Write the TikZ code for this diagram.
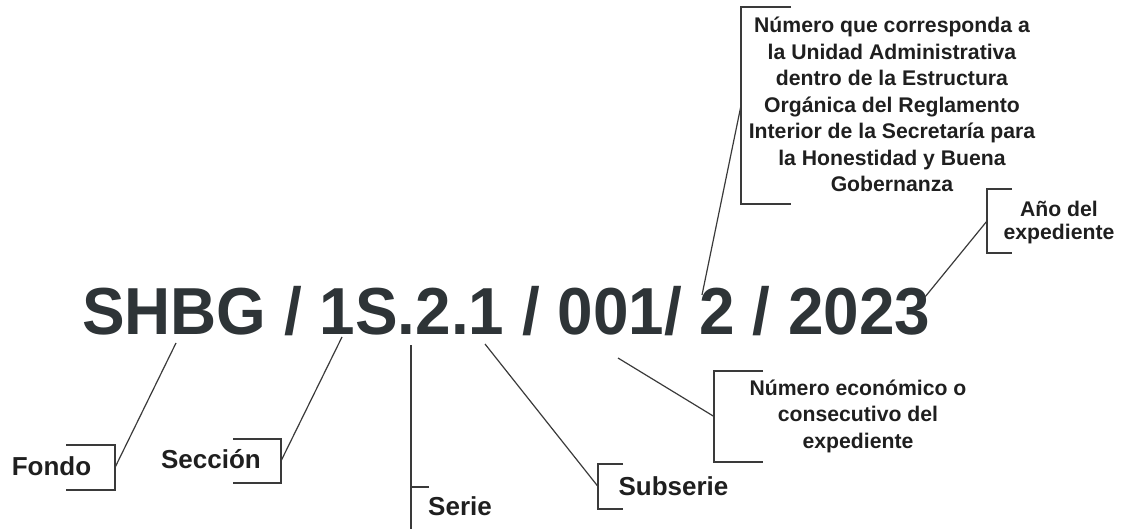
\documentclass[tikz,border=0pt]{standalone}
\usepackage{fontspec}
\setmainfont{Liberation Sans}
\newfontfamily\codefont[FakeStretch=0.96]{Liberation Sans}
\definecolor{griscode}{HTML}{2E3437}
\definecolor{gristexte}{HTML}{1F1F1F}
\definecolor{gristrait}{HTML}{3A3A3A}

\begin{document}
\begin{tikzpicture}[x=1pt,y=-1pt]

\tikzset{etiq/.style={font=\fontsize{26}{30}\selectfont\bfseries,text=gristexte,inner sep=0pt}, %étiquettes courtes
	bloc/.style={font=\fontsize{21.2}{26.5}\selectfont\bfseries,text=gristexte,align=center,inner sep=0pt},
	crochet/.style={inner sep=0pt,outer sep=0pt},
	trait/.style={gristrait,line width=1.2pt}}

\useasboundingbox (0,0) rectangle (1124,529);

%----------code du dossier------------
\node[anchor=base west,inner sep=0pt,text=griscode,font=\codefont\fontsize{66.5}{70}\selectfont\bfseries] (code) at (82,334) {SHBG / 1S.2.1 / 001/ 2 / 2023};

%points sur le code
\coordinate (pFondo) at (176,343);
\coordinate (pSeccion) at (342,337);
\coordinate (pSerie) at (411,345);
\coordinate (pSubserie) at (485,344);
\coordinate (pEcon) at (618,358);
\coordinate (pUnidad) at (702,295);
\coordinate (pAnio) at (925,297);

%----------Fondo------------
\node[etiq,anchor=base] (fondo) at (51.5,475) {Fondo};
\node[crochet,minimum width=49pt,minimum height=45pt] (cFondo) at (90.5,467.5) {};
\draw[trait] (cFondo.north west) -- (cFondo.north east) -- (cFondo.south east) -- (cFondo.south west);
\draw[trait] (cFondo.east) -- (pFondo);

%----------Sección------------
\node[etiq,anchor=base] (seccion) at (211,468) {Sección};
\node[crochet,minimum width=48pt,minimum height=44pt] (cSeccion) at (257,461) {};
\draw[trait] (cSeccion.north west) -- (cSeccion.north east) -- (cSeccion.south east) -- (cSeccion.south west);
\draw[trait] (cSeccion.east) -- (pSeccion);

%----------Serie------------
\node[etiq,anchor=base] (serie) at (460,515) {Serie};
\node[crochet,minimum width=18pt,minimum height=42pt] (cSerie) at (420,508) {};
\draw[trait] (cSerie.north east) -- (cSerie.north west) -- (cSerie.south west);
\draw[trait] (cSerie.north west) -- (pSerie);

%----------Subserie------------
\node[etiq,anchor=base] (subserie) at (673.5,495) {Subserie};
\node[crochet,minimum width=25pt,minimum height=45pt] (cSubserie) at (610.5,486.5) {};
\draw[trait] (cSubserie.north east) -- (cSubserie.north west) -- (cSubserie.south west) -- (cSubserie.south east);
\draw[trait] (cSubserie.west) -- (pSubserie);

%----------número económico------------
%(base = dernière ligne)
\node[bloc,anchor=base] (econ) at (858,448) {Número económico o\\consecutivo del\\expediente};
\node[crochet,minimum width=49pt,minimum height=91pt] (cEcon) at (738.5,416.5) {};
\draw[trait] (cEcon.north east) -- (cEcon.north west) -- (cEcon.south west) -- (cEcon.south east);
\draw[trait] (cEcon.west) -- (pEcon);

%----------unidad administrativa------------
\node[bloc,anchor=base] (unidad) at (892,192) {Número que corresponda a\\la Unidad Administrativa\\dentro de la Estructura\\Orgánica del Reglamento\\Interior de la Secretaría para\\la Honestidad y Buena\\Gobernanza};
\node[crochet,minimum width=50pt,minimum height=197pt] (cUnidad) at (766,105.5) {};
\draw[trait] (cUnidad.north east) -- (cUnidad.north west) -- (cUnidad.south west) -- (cUnidad.south east);
\draw[trait] (cUnidad.west) -- (pUnidad);

%----------año------------
\node[bloc,anchor=base,font=\fontsize{21.2}{23.5}\selectfont\bfseries] (anio) at (1059,240) {Año del\\expediente};
\node[crochet,minimum width=25pt,minimum height=64pt] (cAnio) at (999.5,221) {};
\draw[trait] (cAnio.north east) -- (cAnio.north west) -- (cAnio.south west) -- (cAnio.south east);
\draw[trait] (cAnio.west) -- (pAnio);

\end{tikzpicture}
\end{document}
